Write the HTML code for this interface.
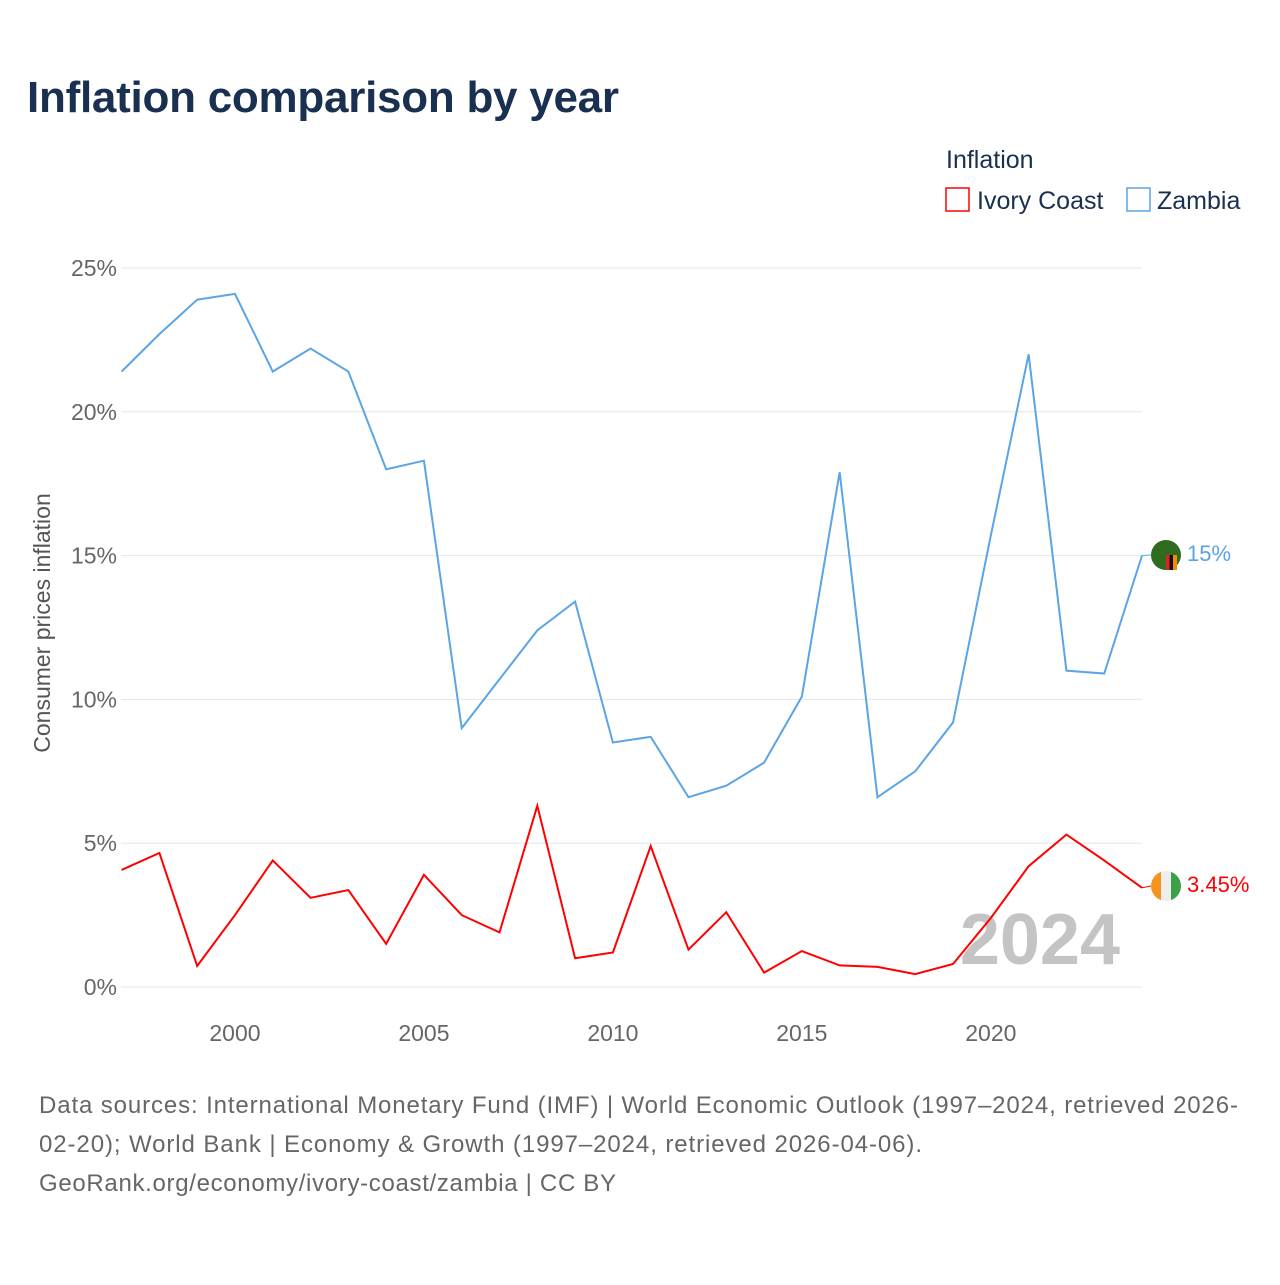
<!DOCTYPE html>
<html><head><meta charset="utf-8"><style>
body{margin:0;background:#fff;width:1280px;height:1280px;overflow:hidden;font-family:"Liberation Sans",sans-serif}
</style></head><body>
<svg width="1280" height="1280" xmlns="http://www.w3.org/2000/svg">
<text x="27" y="112" font-size="44" font-weight="bold" fill="#1a3050" textLength="592">Inflation comparison by year</text>
<text x="946" y="168" font-size="25" fill="#1a3050">Inflation</text>
<g><rect x="946" y="188" width="23" height="23" fill="none" stroke="#f00" stroke-width="1.5"/><text x="977" y="209" font-size="25" fill="#1a3050">Ivory Coast</text></g>
<g><rect x="1127" y="188" width="23" height="23" fill="none" stroke="#5ba4e6" stroke-width="1.5"/><text x="1157" y="209" font-size="25" fill="#1a3050">Zambia</text></g>
<g id="grid"></g><g id="xt"></g>
<text x="1120" y="964" font-size="72" font-weight="bold" fill="#c4c4c4" text-anchor="end">2024</text>
<g id="lines"></g>
<text transform="translate(50,623) rotate(-90)" font-size="23" fill="#555" text-anchor="middle">Consumer prices inflation</text>
<g><circle cx="1166" cy="555" r="15" fill="#2e6b1f"/><rect x="1166" y="555" width="10" height="15" fill="#111"/><rect x="1166" y="555" width="3.5" height="15" fill="#d22"/><rect x="1173" y="555" width="4" height="15" fill="#f28c00"/></g>
<g><clipPath id="cc"><circle cx="1166" cy="886" r="15"/></clipPath><g clip-path="url(#cc)"><rect x="1151" y="871" width="10" height="30" fill="#f7941d"/><rect x="1161" y="871" width="10" height="30" fill="#eee"/><rect x="1171" y="871" width="10" height="30" fill="#3aa14a"/></g></g>
<text x="1187" y="561" font-size="22" fill="#5ba4e6">15%</text>
<text x="1187" y="892" font-size="22" fill="#f00">3.45%</text>
<g font-size="24" fill="#666">
<text x="39" y="1113" textLength="1199">Data sources: International Monetary Fund (IMF) | World Economic Outlook (1997–2024, retrieved 2026-</text>
<text x="39" y="1152" textLength="883">02-20); World Bank | Economy &amp; Growth (1997–2024, retrieved 2026-04-06).</text>
<text x="39" y="1191" textLength="577">GeoRank.org/economy/ivory-coast/zambia | CC BY</text>
</g>
</svg>
<script>
const years=[1997,1998,1999,2000,2001,2002,2003,2004,2005,2006,2007,2008,2009,2010,2011,2012,2013,2014,2015,2016,2017,2018,2019,2020,2021,2022,2023,2024];
const zambia=[21.4,22.7,23.9,24.1,21.4,22.2,21.4,18.0,18.3,9.0,10.7,12.4,13.4,8.5,8.7,6.6,7.0,7.8,10.1,17.9,6.6,7.5,9.2,15.7,22.0,11.0,10.9,15.0];
const ivory=[4.07,4.66,0.73,2.5,4.4,3.1,3.37,1.5,3.9,2.5,1.9,6.3,1.0,1.2,4.9,1.3,2.6,0.5,1.25,0.75,0.7,0.45,0.8,2.4,4.2,5.3,4.4,3.45];
const yTicks=[0,5,10,15,20,25];
const xTicks=[2000,2005,2010,2015,2020];
const NS="http://www.w3.org/2000/svg";
const xs=y=>121.6+(y-1997)*(1142-121.6)/27;
const ys=v=>987-v*(987-268)/25;
function mk(t,a,p){const e=document.createElementNS(NS,t);for(const k in a)e.setAttribute(k,a[k]);p.appendChild(e);return e;}
const g=document.getElementById('grid');
yTicks.forEach(v=>{
const l=mk('line',{x1:121,x2:1142,y1:ys(v),y2:ys(v),stroke:'#e6e6e6','stroke-width':1},g);


const t=mk('text',{x:117,y:ys(v)+8,'font-size':23,fill:'#666','text-anchor':'end'},g);
t.textContent=v+'%';


});
const xt=document.getElementById('xt');
xTicks.forEach(v=>{
const t=mk('text',{x:xs(v),y:1041,'font-size':23,fill:'#666','text-anchor':'middle'},xt);
t.textContent=v;


});
const L=document.getElementById('lines');
[[zambia,'#5ba4e6','zambia-line',555],[ivory,'#f00','ivory-coast-line',886]].forEach(([d,c,n,fy])=>{
const p=mk('polyline',{points:d.map((v,i)=>xs(years[i])+','+ys(v)).join(' '),fill:'none',stroke:c,'stroke-width':2},L);


const c2=mk('line',{x1:1142,x2:1151,y1:ys(d[d.length-1]),y2:fy,stroke:c,'stroke-width':1},L);


});
</script>
</body></html>
